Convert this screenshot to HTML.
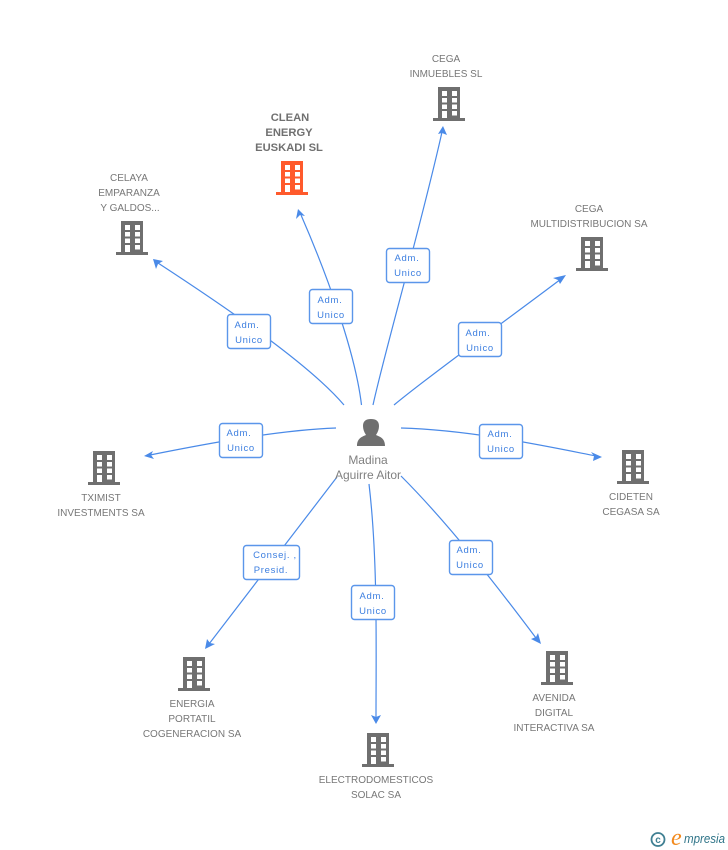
<!DOCTYPE html>
<html><head><meta charset="utf-8"><style>
html,body{margin:0;padding:0;background:#fff}
svg{display:block}
.n{font:10px "Liberation Sans",sans-serif;fill:#777;text-anchor:middle}
.b{font:bold 11.2px "Liberation Sans",sans-serif;fill:#707070;text-anchor:middle}
.p{font:12px "Liberation Sans",sans-serif;fill:#808080;text-anchor:middle}
.l{font:9.5px "Liberation Sans",sans-serif;fill:#3d7fe0;text-anchor:middle;letter-spacing:.7px}
.c{fill:none;stroke:#4a8ae8;stroke-width:1.2}
.r{fill:#fff;stroke:#5b96ea;stroke-width:1.4}
.a{fill:#4a8ae8}
</style></head><body>
<svg width="728" height="850" viewBox="0 0 728 850" xmlns="http://www.w3.org/2000/svg">
<defs>
<g id="w">
<path fill-rule="evenodd" d="M5 0H27V31H32V34H0V31H5ZM9 4V9H14V4ZM19 4V9H24V4ZM9 11V15.500H14V11ZM19 11V15.500H24V11ZM9 17.500V22H14V17.500ZM19 17.500V22H24V17.500ZM9 24V31H14V24ZM19 24V28.500H24V24Z"/>
</g>
</defs>

<!-- connectors -->
<path class="c" d="M373 405C385 350 420 230 442 132"/>
<path class="a" d="M443 126L447 135L442 133L438 134Z"/>
<path class="c" d="M361.500 405C355 350 325 270 301 215"/>
<path class="a" d="M298 209L305 216L300 215L296 219Z"/>
<path class="c" d="M344 405C310 365 230 310 158 263"/>
<path class="a" d="M153 259L163 261L158 264L156 269Z"/>
<path class="c" d="M394 405C430 375 500 325 561 279"/>
<path class="a" d="M566 275L560 284L558 280L553 278Z"/>
<path class="c" d="M336 428C280 430 210 443 150 455"/>
<path class="a" d="M144 456L153 451L151 455L154 459Z"/>
<path class="c" d="M401 428C470 430 540 445 596 456"/>
<path class="a" d="M602 457L593 461L594 456L591 452Z"/>
<path class="c" d="M337 477L209 644"/>
<path class="a" d="M205 649L207 639L210 643L215 644Z"/>
<path class="c" d="M369 484C378 560 376 650 376 718"/>
<path class="a" d="M376 724L371 715L376 717L381 715Z"/>
<path class="c" d="M401 476C450 525 500 590 536 638"/>
<path class="a" d="M541 644L531 639L536 637L538 633Z"/>

<!-- icons -->
<use href="#w" x="433" y="87" fill="#6f6f6f"/>
<use href="#w" x="276" y="161" fill="#ff5a2c"/>
<use href="#w" x="116" y="221" fill="#6f6f6f"/>
<use href="#w" x="576" y="237" fill="#6f6f6f"/>
<use href="#w" x="88" y="451" fill="#6f6f6f"/>
<use href="#w" x="617" y="450" fill="#6f6f6f"/>
<use href="#w" x="178" y="657" fill="#6f6f6f"/>
<use href="#w" x="541" y="651" fill="#6f6f6f"/>
<use href="#w" x="362" y="733" fill="#6f6f6f"/>

<!-- person -->
<path fill="#6f6f6f" d="M357 446C357 439 361 437 366 435C364 432 363 429 363 426C363 421 366 419 371 419C376 419 379 421 379 426C379 429 378 432 376 435C381 437 385 439 385 446Z"/>
<text class="p" x="368" y="464">Madina</text>
<text class="p" x="368" y="479">Aguirre Aitor</text>

<!-- node labels -->
<text class="n" x="446" y="62">CEGA</text>
<text class="n" x="446" y="77">INMUEBLES SL</text>
<text class="b" x="290" y="121">CLEAN</text>
<text class="b" x="289" y="136">ENERGY</text>
<text class="b" x="289" y="151">EUSKADI SL</text>
<text class="n" x="129" y="181">CELAYA</text>
<text class="n" x="129" y="196">EMPARANZA</text>
<text class="n" x="130" y="211">Y GALDOS...</text>
<text class="n" x="589" y="212">CEGA</text>
<text class="n" x="589" y="227">MULTIDISTRIBUCION SA</text>
<text class="n" x="101" y="501">TXIMIST</text>
<text class="n" x="101" y="516">INVESTMENTS SA</text>
<text class="n" x="631" y="500">CIDETEN</text>
<text class="n" x="631" y="515">CEGASA SA</text>
<text class="n" x="192" y="707">ENERGIA</text>
<text class="n" x="192" y="722">PORTATIL</text>
<text class="n" x="192" y="737">COGENERACION SA</text>
<text class="n" x="554" y="701">AVENIDA</text>
<text class="n" x="554" y="716">DIGITAL</text>
<text class="n" x="554" y="731">INTERACTIVA SA</text>
<text class="n" x="376" y="783">ELECTRODOMESTICOS</text>
<text class="n" x="376" y="798">SOLAC SA</text>

<!-- edge labels -->
<rect class="r" x="386.500" y="248.500" width="43" height="34" rx="3"/>
<text class="l" x="407" y="261">Adm.</text><text class="l" x="408" y="276">Unico</text>
<rect class="r" x="309.500" y="289.500" width="43" height="34" rx="3"/>
<text class="l" x="330" y="303">Adm.</text><text class="l" x="331" y="318">Unico</text>
<rect class="r" x="227.500" y="314.500" width="43" height="34" rx="3"/>
<text class="l" x="247" y="328">Adm.</text><text class="l" x="249" y="343">Unico</text>
<rect class="r" x="458.500" y="322.500" width="43" height="34" rx="3"/>
<text class="l" x="478" y="336">Adm.</text><text class="l" x="480" y="351">Unico</text>
<rect class="r" x="219.500" y="423.500" width="43" height="34" rx="3"/>
<text class="l" x="239" y="436">Adm.</text><text class="l" x="241" y="451">Unico</text>
<rect class="r" x="479.500" y="424.500" width="43" height="34" rx="3"/>
<text class="l" x="500" y="437">Adm.</text><text class="l" x="501" y="452">Unico</text>
<rect class="r" x="243.500" y="545.500" width="56" height="34" rx="3"/>
<text class="l" x="275" y="558">Consej. ,</text><text class="l" x="271" y="573">Presid.</text>
<rect class="r" x="351.500" y="585.500" width="43" height="34" rx="3"/>
<text class="l" x="372" y="599">Adm.</text><text class="l" x="373" y="614">Unico</text>
<rect class="r" x="449.500" y="540.500" width="43" height="34" rx="3"/>
<text class="l" x="469" y="553">Adm.</text><text class="l" x="470" y="568">Unico</text>

<!-- logo -->
<circle cx="658" cy="839.500" r="6.500" fill="none" stroke="#3f7f92" stroke-width="1.8"/>
<text x="658" y="843" style="font:bold 10px 'Liberation Sans',sans-serif;fill:#3f7f92;text-anchor:middle">c</text>
<text x="671" y="845" style="font:italic 24px 'Liberation Serif',serif;fill:#f28a1e">e</text>
<text x="684" y="843" textLength="41" lengthAdjust="spacingAndGlyphs" style="font:italic 12.500px 'Liberation Sans',sans-serif;fill:#2f7488">mpresia</text>
</svg>
</body></html>
